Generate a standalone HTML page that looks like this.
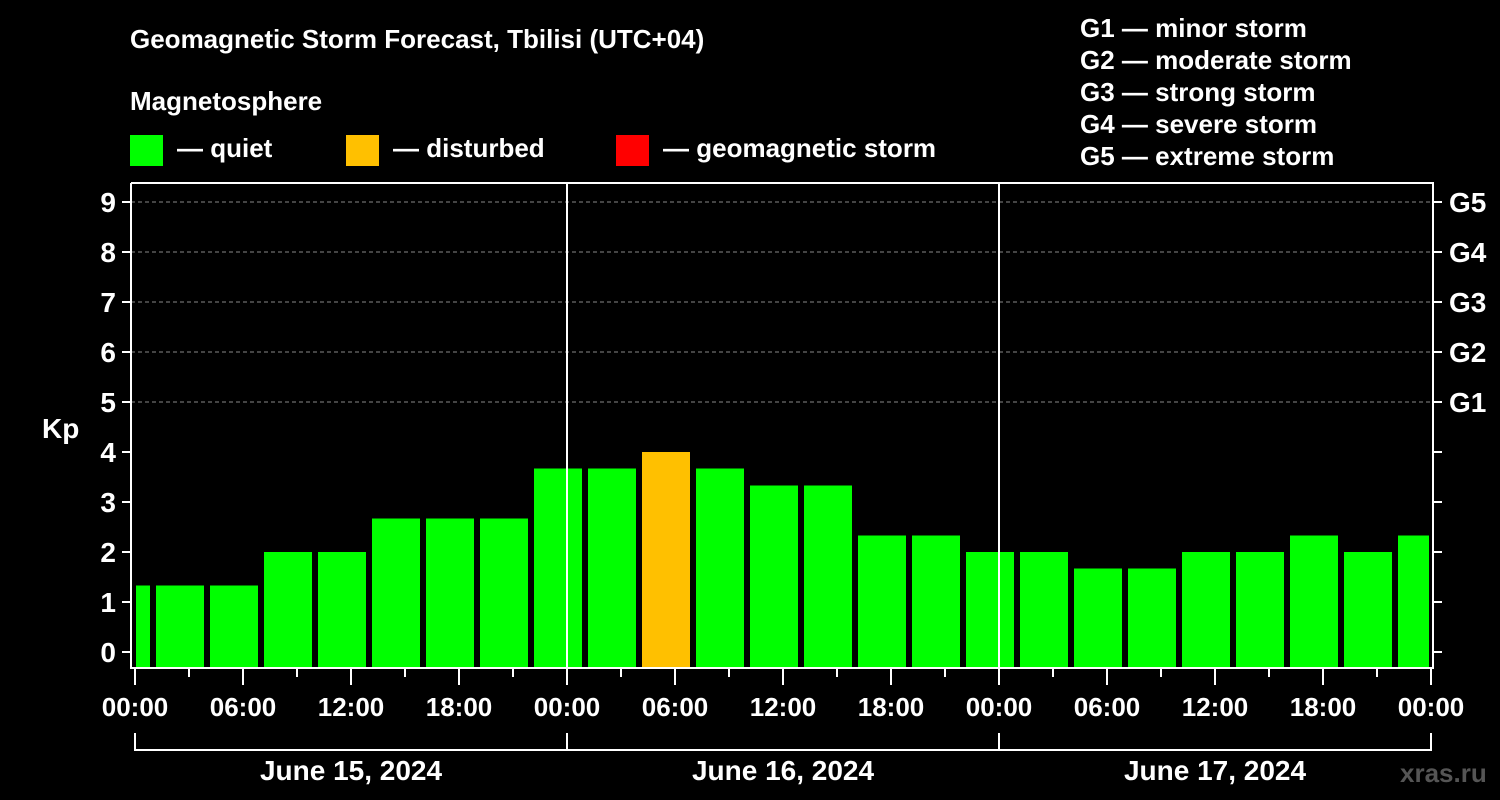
<!DOCTYPE html>
<html><head><meta charset="utf-8"><style>
html,body{margin:0;padding:0;background:#000;}
svg{display:block;font-family:"Liberation Sans",Arial,sans-serif;font-weight:bold;}
</style></head><body>
<svg id="chart" width="1500" height="800" viewBox="0 0 1500 800" xmlns="http://www.w3.org/2000/svg">
<rect x="0" y="0" width="1500" height="800" fill="#000"/>
<text x="130" y="48" fill="#fff" font-size="26">Geomagnetic Storm Forecast, Tbilisi (UTC+04)</text>
<text x="130" y="110" fill="#fff" font-size="26">Magnetosphere</text>
<g><rect x="130" y="135" width="33" height="31" fill="#00ff00"/><text x="177" y="157" fill="#fff" font-size="26">— quiet</text></g>
<g><rect x="346" y="135" width="33" height="31" fill="#ffc000"/><text x="393" y="157" fill="#fff" font-size="26">— disturbed</text></g>
<g><rect x="616" y="135" width="33" height="31" fill="#ff0000"/><text x="663" y="157" fill="#fff" font-size="26">— geomagnetic storm</text></g>
<g fill="#fff" font-size="26">
<text x="1080" y="37">G1 — minor storm</text>
<text x="1080" y="69">G2 — moderate storm</text>
<text x="1080" y="101">G3 — strong storm</text>
<text x="1080" y="133">G4 — severe storm</text>
<text x="1080" y="165">G5 — extreme storm</text>
</g>
<text x="42" y="438" fill="#fff" font-size="28">Kp</text>
<text x="1400" y="782" fill="#555" font-size="26">xras.ru</text>
<defs><clipPath id="plotclip"><rect x="136" y="183" width="1293" height="485"/></clipPath></defs>
<g id="grid"></g>
<g id="bars" clip-path="url(#plotclip)"></g>
<g id="axes"></g>
</svg>
<script>
const kpValues = [1.33,1.33,1.33,2,2,2.67,2.67,2.67,3.67,3.67,4,3.67,3.33,3.33,2.33,2.33,2,2,1.67,1.67,2,2,2.33,2,2.33];
const barHours = [-0.5,2.5,5.5,8.5,11.5,14.5,17.5,20.5,23.5,26.5,29.5,32.5,35.5,38.5,41.5,44.5,47.5,50.5,53.5,56.5,59.5,62.5,65.5,68.5,71.5];
const yTicks = [0,1,2,3,4,5,6,7,8,9];
const gLabels = ["G1","G2","G3","G4","G5"];
const gLevels = [5,6,7,8,9];
const xTickLabels = ["00:00","06:00","12:00","18:00","00:00","06:00","12:00","18:00","00:00","06:00","12:00","18:00","00:00"];
const dayLabels = ["June 15, 2024","June 16, 2024","June 17, 2024"];

const NS="http://www.w3.org/2000/svg";
const x0=135, pxPerHour=18, y0=652, pxPerKp=50;
const xs=h=>x0+h*pxPerHour;
const ys=v=>y0-v*pxPerKp;
const plotL=131, plotR=1433, plotT=183, plotB=668;
function mk(tag,attrs,parent,text){const e=document.createElementNS(NS,tag);for(const k in attrs)e.setAttribute(k,attrs[k]);if(text!==undefined)e.textContent=text;parent.appendChild(e);return e;}
const grid=document.getElementById('grid'), bars=document.getElementById('bars'), axes=document.getElementById('axes');

gLevels.forEach((v,i)=>{
  const l=mk('line',{x1:plotL,x2:plotR,y1:ys(v),y2:ys(v),stroke:'#888','stroke-width':1,'stroke-dasharray':'4,3'},grid);
  
  
});

kpValues.forEach((v,i)=>{
  const c=xs(barHours[i]);
  const col=v>=5?'#ff0000':(v>=4?'#ffc000':'#00ff00');
  const r=mk('rect',{x:c-24,y:ys(v),width:48,height:plotB-ys(v),fill:col},bars);
  
  
});

// frame
const f=mk('path',{d:`M${plotL},${plotT} V${plotB} H${plotR} V${plotT} H${plotL}`,fill:'none',stroke:'#fff','stroke-width':2},axes);


// day separators
[24,48].forEach(h=>{
  const l=mk('line',{x1:xs(h),x2:xs(h),y1:plotT,y2:plotB,stroke:'#fff','stroke-width':2},axes);
  
  
});
yTicks.forEach(v=>{
  mk('line',{x1:122,x2:plotL,y1:ys(v),y2:ys(v),stroke:'#fff','stroke-width':2},axes);
  mk('line',{x1:plotR,x2:1442,y1:ys(v),y2:ys(v),stroke:'#fff','stroke-width':2},axes);
  const t=mk('text',{x:116,y:ys(v)+10,fill:'#fff','font-size':28,'text-anchor':'end'},axes,String(v));
  
  
});
gLevels.forEach((v,i)=>{
  const t=mk('text',{x:1449,y:ys(v)+10,fill:'#fff','font-size':28},axes,gLabels[i]);
  
  
});
for(let h=0;h<=72;h+=3){
  const major=h%6===0;
  mk('line',{x1:xs(h),x2:xs(h),y1:plotB,y2:plotB+(major?17:9),stroke:'#fff','stroke-width':2},axes);
}
xTickLabels.forEach((s,i)=>{
  const t=mk('text',{x:xs(i*6),y:716,fill:'#fff','font-size':26,'text-anchor':'middle'},axes,s);
  
  
});
const br=mk('path',{d:`M${xs(0)},733 V750 H${xs(72)} V733 M${xs(24)},733 V750 M${xs(48)},733 V750`,fill:'none',stroke:'#fff','stroke-width':2},axes);


dayLabels.forEach((s,i)=>{
  const t=mk('text',{x:xs(i*24+12),y:780,fill:'#fff','font-size':28,'text-anchor':'middle'},axes,s);
  
  
});
</script>
</body></html>
